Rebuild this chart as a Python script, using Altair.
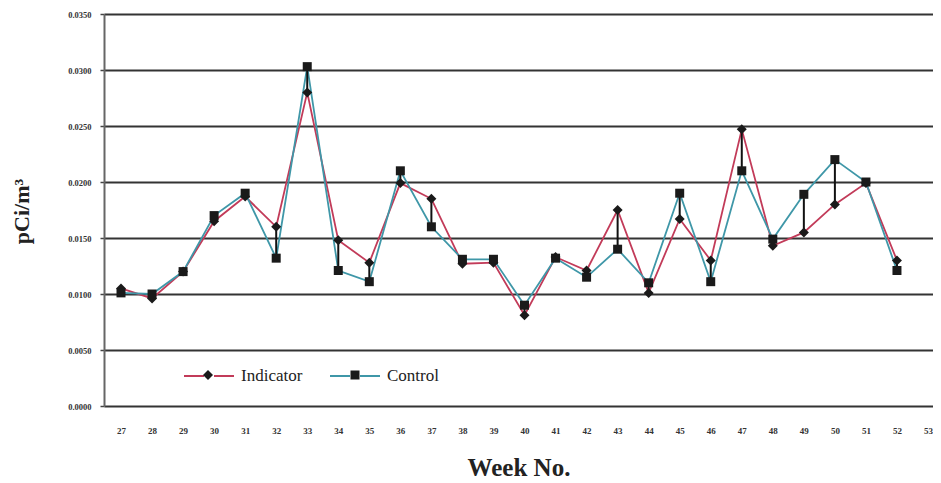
import altair as alt
import pandas as pd

weeks = list(range(27, 53))
indicator = [0.0105, 0.0096, 0.0120, 0.0165, 0.0187, 0.0160, 0.0280, 0.0148, 0.0128,
             0.0199, 0.0185, 0.0127, 0.0128, 0.0081, 0.0133, 0.0121, 0.0175, 0.0101,
             0.0167, 0.0130, 0.0247, 0.0143, 0.0155, 0.0180, 0.0199, 0.0130]
control = [0.0101, 0.0100, 0.0120, 0.0170, 0.0190, 0.0132, 0.0303, 0.0121, 0.0111,
           0.0210, 0.0160, 0.0131, 0.0131, 0.0090, 0.0132, 0.0115, 0.0140, 0.0110,
           0.0190, 0.0111, 0.0210, 0.0149, 0.0189, 0.0220, 0.0200, 0.0121]
series_names = ["Indicator", "Control"]
series_colors = ["#c23b59", "#3f97a8"]
tick_weeks = list(range(27, 54))
y_ticks = [0.0, 0.005, 0.01, 0.015, 0.02, 0.025, 0.03, 0.035]

long_rows = []
for w, a, b in zip(weeks, indicator, control):
    long_rows.append({"week": w, "value": a, "series": "Indicator", "marker": "Indicator"})
    long_rows.append({"week": w, "value": b, "series": "Control", "marker": "Control"})
long_df = pd.DataFrame(long_rows)
wide_df = pd.DataFrame({"week": weeks, "ind": indicator, "ctl": control})

FONT = "Liberation Serif"
xscale = alt.Scale(domain=[26.452, 53.161], nice=False, zero=False)
yscale = alt.Scale(domain=[0, 0.035], nice=False)

xaxis = alt.Axis(values=tick_weeks, format="d", grid=False, ticks=False, domain=False,
                 labelOverlap=False, labelFlush=False, labelBound=False,
                 labelFont=FONT, labelFontSize=9, labelFontWeight="bold", labelColor="#333",
                 labelPadding=20, title="Week No.", titleFont=FONT, titleFontSize=25,
                 titleFontWeight="bold", titleColor="#222", titlePadding=20)
yaxis = alt.Axis(values=y_ticks, format=".4f", grid=True, gridColor="#333", gridWidth=2,
                 domain=True, domainColor="#666", domainWidth=2, ticks=True, tickSize=4,
                 tickColor="#444", tickWidth=1.5, labelFont=FONT, labelFontSize=8.5,
                 labelFontWeight="bold", labelColor="#333", labelPadding=9,
                 title="pCi/m³", titleFont=FONT, titleFontSize=22, titleFontWeight="bold",
                 titleColor="#222", titleX=-71, titleY=197)

lines = alt.Chart(long_df).mark_line(strokeWidth=1.8).encode(
    x=alt.X("week:Q", scale=xscale, axis=xaxis),
    y=alt.Y("value:Q", scale=yscale, axis=yaxis),
    color=alt.Color("series:N", scale=alt.Scale(domain=series_names, range=series_colors),
                    legend=alt.Legend(orient="none", legendX=79, legendY=336, direction="horizontal",
                                      title=None, symbolType="M-1,0H-0.2M0.2,0H1", symbolSize=2500,
                                      symbolStrokeWidth=2, labelFont=FONT, labelFontSize=17,
                                      labelColor="#222", labelOffset=6, columnPadding=23,
                                      padding=0)),
)

rules = alt.Chart(wide_df).mark_rule(color="#111", strokeWidth=2).encode(
    x=alt.X("week:Q", scale=xscale, axis=xaxis),
    y=alt.Y("ind:Q", scale=yscale, axis=yaxis),
    y2="ctl:Q",
)

points = alt.Chart(long_df).mark_point(filled=True, color="#1a1a1a", opacity=1, size=2500).encode(
    x=alt.X("week:Q", scale=xscale, axis=xaxis),
    y=alt.Y("value:Q", scale=yscale, axis=yaxis),
    shape=alt.Shape("marker:N", scale=alt.Scale(
        domain=series_names,
        range=["M0,-0.2L0.2,0L0,0.2L-0.2,0Z", "M-0.18,-0.18H0.18V0.18H-0.18Z"]),
        legend=alt.Legend(orient="none", legendX=79, legendY=336, direction="horizontal",
                          title=None, symbolSize=2500, symbolFillColor="#1a1a1a",
                          symbolStrokeColor="#1a1a1a", symbolStrokeWidth=0,
                          labelExpr="''", labelFont=FONT, labelFontSize=17,
                          labelOffset=0, columnPadding=97, padding=0)),
)

chart = alt.layer(lines, rules, points).resolve_legend(color="independent", shape="independent").properties(
    width=829, height=392,
    autosize=alt.AutoSizeParams(type="none"),
    padding={"left": 96, "top": 6, "right": 0, "bottom": 74},
    background="white",
).configure_view(stroke=None).configure_axis(labelOverlap=False)

chart.save("out.html", embed_options={"renderer": "svg", "actions": False})
